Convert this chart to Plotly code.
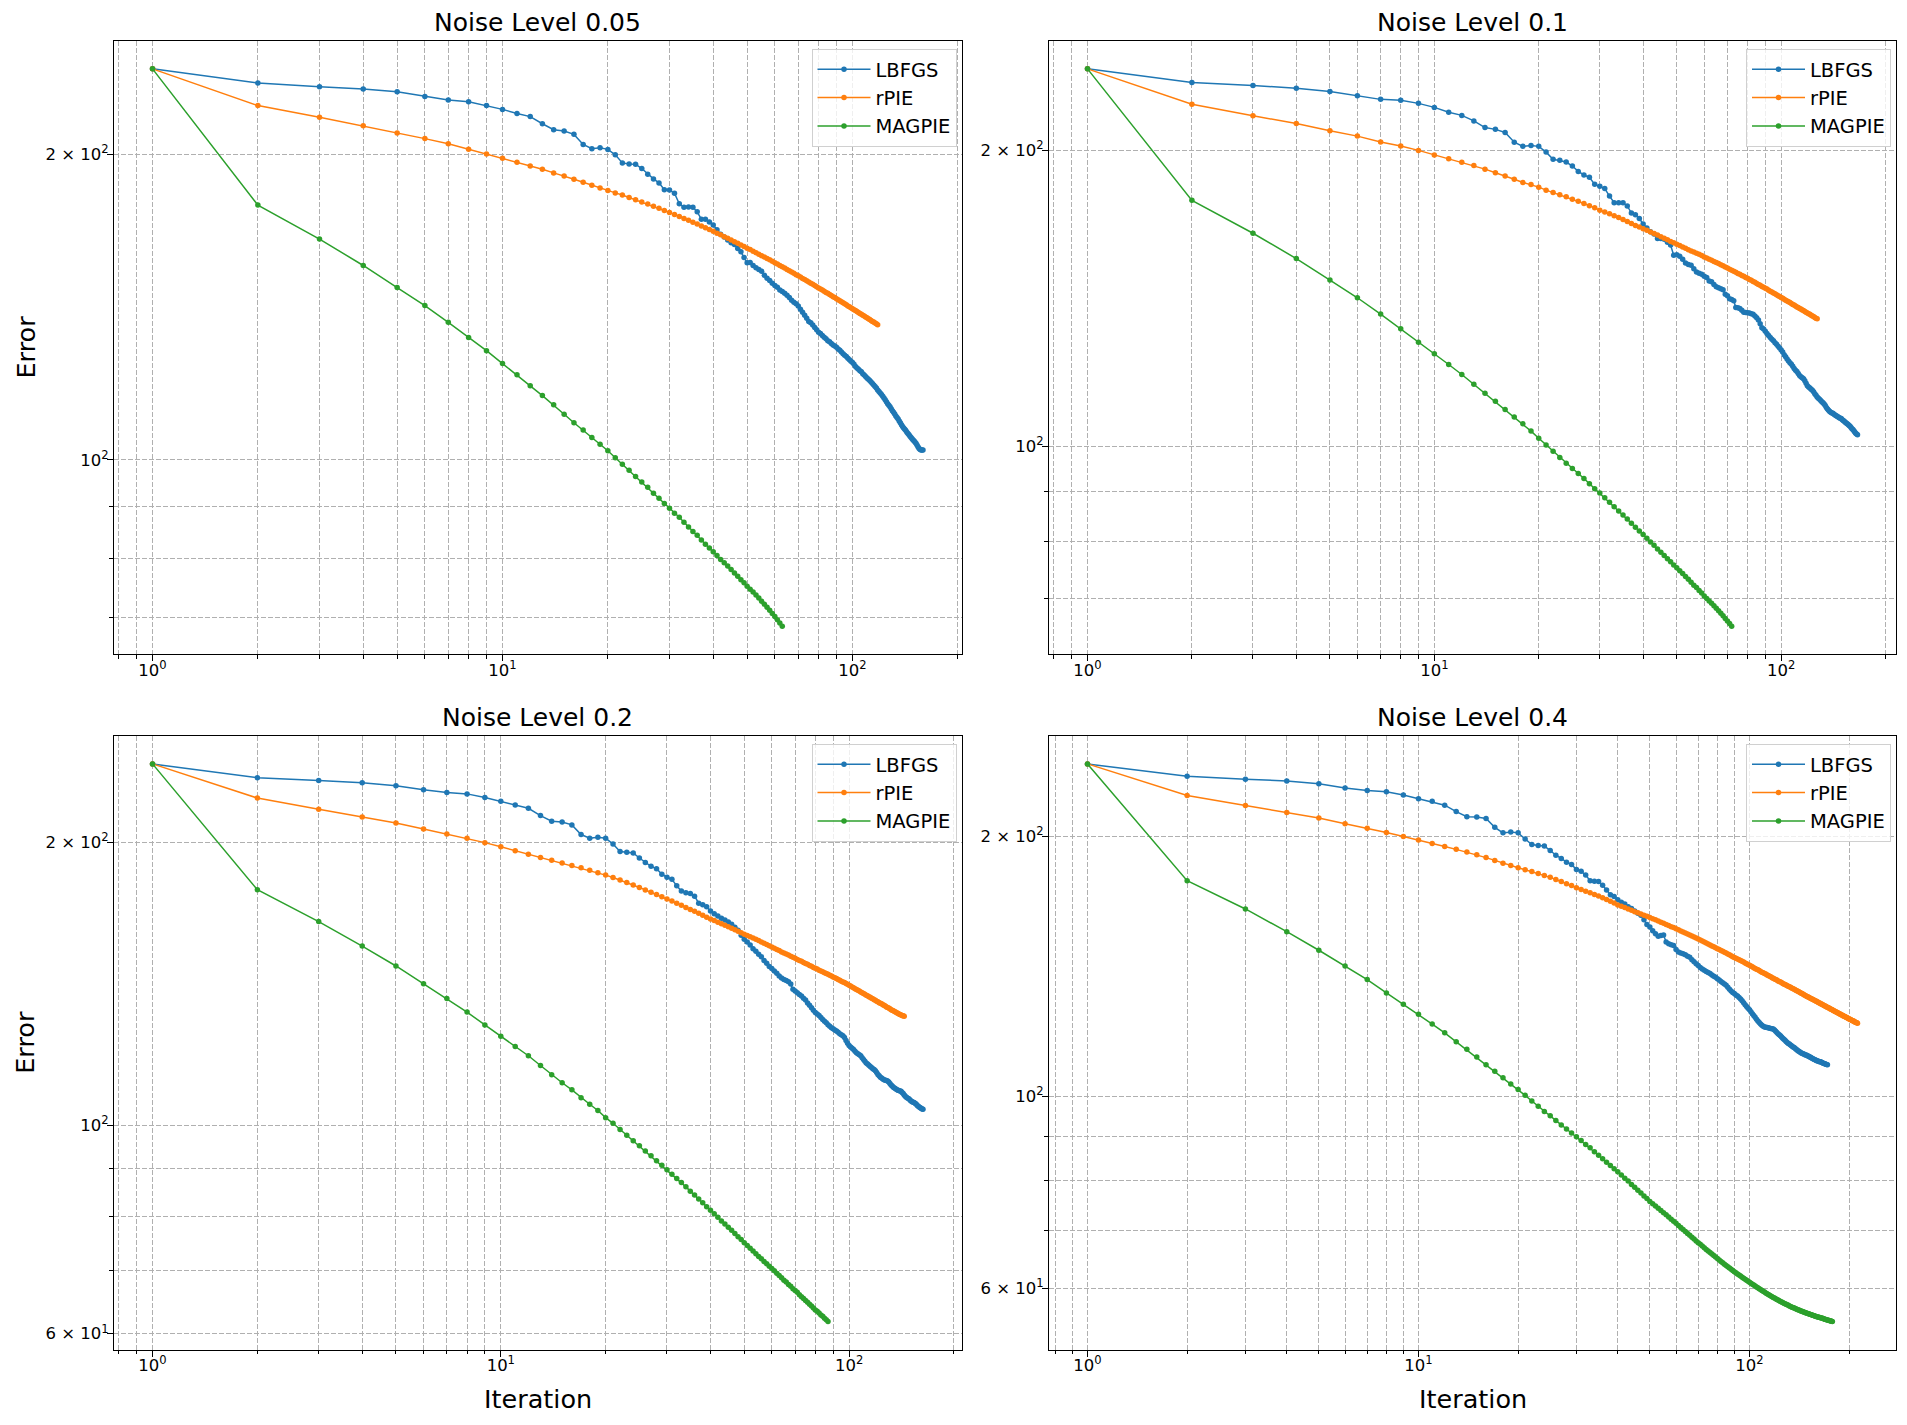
import math
import plotly.graph_objects as go

# ---- data: error per iteration (iterations start at 1) ----
titles = ["Noise Level 0.05", "Noise Level 0.1", "Noise Level 0.2", "Noise Level 0.4"]
methods = ["LBFGS", "rPIE", "MAGPIE"]
colors = ["#1f77b4", "#ff7f0e", "#2ca02c"]

lbfgs_005 = [
    242.7, 235.0, 233.1, 231.9, 230.4, 227.9, 226.2, 225.3, 223.3, 221.4,
    219.3, 217.8, 214.3, 211.4, 210.8, 209.2, 204.5, 202.5, 202.9, 202.2,
    199.7, 196.1, 195.6, 195.5, 193.6, 191.1, 189.1, 187.4, 184.5, 184.4,
    183.1, 178.7, 177.3, 177.4, 177.3, 175.5, 172.6, 172.6, 171.5, 170.3,
    168.5, 166.8, 165.8, 164.6, 163.6, 163.0, 161.5, 160.3, 158.2, 156.4,
    156.5, 155.4, 154.6, 154.0, 153.4, 152.0, 151.0, 150.2, 149.3, 148.5,
    147.9, 147.0, 146.5, 145.9, 145.3, 144.5, 143.6, 143.0, 142.5, 141.8,
    140.7, 139.8, 138.8, 137.9, 136.9, 136.5, 135.8, 135.0, 134.3, 133.6,
    133.2, 132.6, 132.1, 131.6, 131.0, 130.7, 130.2, 129.8, 129.5, 129.1,
    128.6, 128.2, 127.7, 127.2, 126.8, 126.4, 125.9, 125.5, 125.1, 124.7,
    124.2, 123.6, 123.2, 122.8, 122.4, 122.1, 121.6, 121.2, 120.8, 120.4,
    120.1, 119.7, 119.3, 118.9, 118.5, 118.1, 117.7, 117.2, 116.8, 116.4,
    116.0, 115.5, 115.1, 114.6, 114.1, 113.6, 113.2, 112.8, 112.3, 111.8,
    111.4, 111.0, 110.5, 110.1, 109.7, 109.2, 108.8, 108.3, 107.9, 107.5,
    107.2, 106.9, 106.5, 106.2, 105.9, 105.5, 105.2, 104.9, 104.6, 104.4,
    104.1, 103.8, 103.4, 103.0, 102.6, 102.4, 102.3, 102.3, 102.3,
]
rpie_005 = [
    242.7, 223.3, 217.5, 213.3, 209.9, 207.2, 204.8, 202.3, 200.1, 198.2,
    196.4, 194.7, 193.3, 191.7, 190.4, 189.0, 187.7, 186.4, 185.3, 184.2,
    183.2, 182.3, 181.3, 180.4, 179.5, 178.6, 177.7, 176.9, 176.0, 175.2,
    174.4, 173.7, 172.9, 172.2, 171.4, 170.7, 170.0, 169.3, 168.6, 167.9,
    167.2, 166.6, 165.9, 165.3, 164.6, 164.0, 163.4, 162.8, 162.2, 161.6,
    161.1, 160.5, 160.0, 159.4, 158.9, 158.4, 157.9, 157.4, 156.9, 156.4,
    155.9, 155.4, 155.0, 154.5, 154.0, 153.6, 153.1, 152.7, 152.2, 151.8,
    151.4, 150.9, 150.5, 150.1, 149.7, 149.3, 148.9, 148.5, 148.1, 147.7,
    147.3, 147.0, 146.6, 146.2, 145.9, 145.5, 145.2, 144.8, 144.5, 144.1,
    143.8, 143.5, 143.1, 142.8, 142.5, 142.2, 141.8, 141.5, 141.2, 140.9,
    140.6, 140.3, 140.0, 139.7, 139.4, 139.1, 138.8, 138.6, 138.3, 138.0,
    137.7, 137.5, 137.2, 136.9, 136.7, 136.4, 136.2, 135.9,
]
magpie_005 = [
    242.7, 178.2, 165.0, 155.4, 147.8, 141.9, 136.6, 132.0, 128.1, 124.4,
    121.3, 118.3, 115.7, 113.3, 110.9, 108.8, 107.0, 105.2, 103.6, 102.1,
    100.5, 99.0, 97.7, 96.3, 95.1, 94.0, 92.7, 91.7, 90.6, 89.6,
    88.6, 87.8, 86.8, 85.9, 85.0, 84.3, 83.4, 82.6, 81.9, 81.2,
    80.5, 79.8, 79.2, 78.6, 78.0, 77.4, 76.8, 76.2, 75.7, 75.1,
    74.6, 74.1, 73.6, 73.1, 72.6, 72.1, 71.6, 71.1, 70.6, 70.1,
    69.6, 69.1, 68.6,
]

lbfgs_01 = [
    242.1, 234.5, 232.8, 231.4, 229.6, 227.3, 225.4, 224.9, 223.3, 221.2,
    218.7, 217.1, 214.3, 211.0, 210.1, 208.6, 203.9, 201.9, 202.3, 201.9,
    199.2, 195.9, 195.4, 194.6, 192.8, 190.4, 188.8, 187.8, 184.7, 183.9,
    182.9, 179.7, 176.9, 176.9, 176.9, 175.6, 172.7, 172.0, 170.5, 168.3,
    166.7, 165.3, 164.4, 162.7, 162.7, 162.4, 161.3, 160.2, 156.4, 156.6,
    156.1, 155.0, 153.6, 153.1, 152.8, 151.6, 150.4, 150.0, 149.6, 148.9,
    148.5, 147.3, 147.0, 146.1, 145.3, 145.0, 144.6, 144.3, 142.8, 142.3,
    141.3, 141.0, 140.6, 138.4, 138.3, 138.1, 137.5, 136.9, 136.8, 136.7,
    136.6, 136.4, 136.2, 135.7, 135.1, 134.4, 133.2, 132.0, 131.6, 130.9,
    130.2, 129.6, 129.0, 128.5, 128.0, 127.4, 127.0, 126.4, 125.9, 125.3,
    124.7, 123.9, 123.3, 122.7, 122.1, 121.6, 121.2, 120.6, 120.0, 119.5,
    119.1, 118.6, 118.0, 117.7, 117.4, 117.1, 116.6, 115.9, 115.2, 114.9,
    114.6, 114.3, 114.0, 113.6, 113.1, 112.7, 112.2, 111.9, 111.6, 111.3,
    111.0, 110.7, 110.4, 110.0, 109.5, 109.1, 108.8, 108.5, 108.3, 108.1,
    108.0, 107.8, 107.6, 107.4, 107.3, 107.1, 106.9, 106.8, 106.7, 106.4,
    106.2, 106.0, 105.8, 105.6, 105.4, 105.2, 105.0, 104.8, 104.5, 104.2,
    104.0, 103.7, 103.4, 103.1, 102.9, 102.7,
]
rpie_01 = [
    242.1, 222.8, 216.9, 213.0, 209.4, 206.8, 204.0, 202.1, 200.0, 197.9,
    196.1, 194.5, 193.1, 191.4, 189.8, 188.4, 186.9, 185.5, 184.6, 183.5,
    182.2, 181.2, 180.3, 179.4, 178.4, 177.5, 176.6, 175.7, 174.8, 173.8,
    173.1, 172.4, 171.6, 170.9, 170.1, 169.3, 168.5, 167.7, 167.1, 166.5,
    165.9, 165.2, 164.6, 164.0, 163.4, 162.8, 162.2, 161.6, 161.1, 160.5,
    160.0, 159.5, 159.0, 158.5, 158.0, 157.6, 157.2, 156.8, 156.3, 155.8,
    155.4, 155.0, 154.6, 154.2, 153.8, 153.4, 153.0, 152.6, 152.2, 151.8,
    151.4, 151.0, 150.7, 150.3, 149.9, 149.6, 149.2, 148.9, 148.5, 148.2,
    147.8, 147.5, 147.1, 146.8, 146.4, 146.1, 145.8, 145.4, 145.1, 144.8,
    144.5, 144.1, 143.8, 143.5, 143.2, 142.9, 142.6, 142.3, 142.0, 141.7,
    141.4, 141.1, 140.8, 140.5, 140.3, 140.0, 139.7, 139.4, 139.2, 138.9,
    138.6, 138.4, 138.1, 137.9, 137.6, 137.4, 137.1, 136.9, 136.6, 136.4,
    136.2, 135.9, 135.7, 135.5, 135.2, 135.0, 134.8,
]
magpie_01 = [
    242.1, 177.9, 164.7, 155.2, 147.6, 141.6, 136.3, 131.7, 127.6, 124.2,
    121.1, 118.3, 115.6, 113.2, 111.1, 109.0, 107.1, 105.4, 103.6, 101.9,
    100.3, 98.8, 97.4, 96.1, 94.9, 93.8, 92.7, 91.6, 90.5, 89.6,
    88.6, 87.7, 86.8, 85.9, 85.1, 84.3, 83.5, 82.7, 82.0, 81.3,
    80.6, 79.9, 79.3, 78.6, 78.0, 77.4, 76.8, 76.3, 75.7, 75.2,
    74.7, 74.2, 73.7, 73.2, 72.7, 72.2, 71.8, 71.3, 70.9, 70.4,
    70.0, 69.6, 69.2, 68.8, 68.4, 68.0, 67.6, 67.2, 66.8, 66.4,
    66.0, 65.6,
]

lbfgs_02 = [
    242.6, 234.5, 232.9, 231.6, 230.0, 227.7, 226.2, 225.4, 223.4, 221.3,
    219.3, 217.6, 213.7, 210.8, 210.4, 208.9, 204.0, 202.2, 202.6, 202.2,
    199.3, 195.7, 195.3, 195.0, 192.6, 190.5, 188.7, 187.6, 185.1, 183.7,
    182.8, 179.9, 177.6, 176.9, 176.5, 175.4, 172.4, 171.7, 170.9, 169.1,
    168.0, 167.1, 166.2, 165.4, 164.6, 163.7, 162.5, 161.3, 159.4, 157.8,
    156.8, 155.6, 154.2, 153.2, 152.1, 151.2, 149.8, 148.8, 147.6, 146.9,
    146.0, 145.2, 144.2, 143.5, 143.0, 142.6, 142.2, 141.4, 139.6, 139.0,
    138.4, 137.8, 137.3, 136.6, 136.0, 135.0, 134.2, 133.4, 132.6, 131.9,
    131.4, 130.9, 130.3, 129.6, 129.1, 128.6, 128.0, 127.5, 127.0, 126.7,
    126.3, 126.0, 125.6, 125.2, 124.9, 124.6, 124.0, 123.1, 122.3, 121.6,
    121.2, 120.8, 120.4, 119.9, 119.5, 119.2, 118.9, 118.6, 118.0, 117.5,
    117.0, 116.5, 116.2, 115.9, 115.5, 115.2, 114.9, 114.7, 114.3, 113.8,
    113.3, 112.9, 112.5, 112.3, 112.0, 111.8, 111.7, 111.6, 111.5, 111.2,
    110.8, 110.4, 110.1, 109.8, 109.6, 109.4, 109.2, 109.0, 108.9, 108.8,
    108.7, 108.4, 108.1, 107.7, 107.4, 107.1, 106.9, 106.8, 106.6, 106.3,
    106.1, 105.9, 105.8, 105.7, 105.5, 105.3, 105.0, 104.8, 104.6, 104.4,
    104.3, 104.1, 104.0,
]
rpie_02 = [
    242.6, 223.1, 217.1, 213.0, 209.9, 206.8, 204.3, 202.2, 200.0, 198.0,
    196.1, 194.4, 192.9, 191.5, 190.3, 189.1, 188.0, 186.9, 185.8, 184.7,
    183.6, 182.5, 181.4, 180.3, 179.2, 178.1, 177.1, 176.1, 175.1, 174.2,
    173.3, 172.4, 171.5, 170.6, 169.8, 169.0, 168.2, 167.4, 166.6, 165.9,
    165.2, 164.5, 163.9, 163.3, 162.7, 162.1, 161.5, 160.9, 160.4, 159.8,
    159.3, 158.8, 158.3, 157.8, 157.3, 156.8, 156.3, 155.8, 155.3, 154.8,
    154.4, 153.9, 153.5, 153.0, 152.6, 152.2, 151.8, 151.4, 151.0, 150.6,
    150.2, 149.8, 149.5, 149.1, 148.7, 148.4, 148.0, 147.7, 147.3, 147.0,
    146.7, 146.3, 146.0, 145.7, 145.4, 145.1, 144.8, 144.5, 144.2, 143.9,
    143.6, 143.3, 143.0, 142.7, 142.4, 142.1, 141.9, 141.6, 141.3, 141.0,
    140.7, 140.4, 140.1, 139.8, 139.5, 139.3, 139.0, 138.7, 138.4, 138.2,
    137.9, 137.6, 137.4, 137.1, 136.9, 136.6, 136.4, 136.1, 135.9, 135.6,
    135.4, 135.1, 134.9, 134.7, 134.4, 134.2, 134.0, 133.7, 133.5, 133.3,
    133.1, 132.8, 132.6, 132.4, 132.2, 132.0, 131.8, 131.6, 131.4, 131.2,
    131.1, 130.9, 130.8, 130.7,
]
magpie_02 = [
    242.6, 178.2, 164.8, 155.2, 147.8, 141.5, 136.5, 132.0, 127.9, 124.4,
    121.3, 118.6, 115.8, 113.2, 111.0, 109.1, 107.0, 105.3, 103.7, 101.9,
    100.5, 99.0, 97.6, 96.3, 95.1, 93.9, 92.8, 91.7, 90.7, 89.7,
    88.7, 87.8, 86.9, 86.0, 85.1, 84.3, 83.5, 82.7, 81.9, 81.2,
    80.5, 79.8, 79.1, 78.5, 77.9, 77.3, 76.7, 76.1, 75.6, 75.0,
    74.5, 74.0, 73.5, 73.0, 72.5, 72.1, 71.6, 71.2, 70.8, 70.4,
    70.0, 69.6, 69.2, 68.8, 68.4, 68.1, 67.7, 67.4, 67.0, 66.7,
    66.4, 66.0, 65.7, 65.4, 65.1, 64.8, 64.5, 64.2, 63.9, 63.6,
    63.4, 63.1, 62.8, 62.6, 62.3, 62.1, 61.8,
]

lbfgs_04 = [
    242.8, 234.9, 233.1, 232.0, 230.3, 227.7, 226.1, 225.4, 223.5, 221.3,
    219.7, 217.5, 213.8, 210.9, 210.7, 209.9, 205.0, 202.0, 202.5, 202.0,
    198.7, 195.8, 195.3, 195.1, 192.7, 190.3, 188.7, 186.8, 185.7, 183.2,
    182.3, 180.5, 177.8, 177.6, 177.4, 175.7, 173.5, 171.3, 170.5, 169.0,
    167.9, 167.1, 165.9, 165.1, 164.0, 163.0, 162.2, 160.2, 158.2, 157.1,
    155.6, 154.3, 153.3, 153.6, 153.8, 151.0, 150.3, 149.9, 149.6, 148.0,
    147.0, 146.6, 146.3, 145.9, 145.4, 145.0, 144.0, 143.2, 142.5, 141.8,
    141.1, 140.5, 140.0, 139.6, 139.2, 138.8, 138.3, 137.8, 137.4, 136.9,
    136.4, 135.9, 135.4, 135.0, 134.5, 133.8, 133.1, 132.5, 132.0, 131.6,
    131.1, 130.7, 130.2, 129.7, 129.1, 128.4, 127.7, 127.1, 126.5, 126.0,
    125.4, 124.7, 124.1, 123.5, 122.9, 122.3, 121.8, 121.3, 120.9, 120.6,
    120.4, 120.3, 120.2, 120.1, 120.0, 119.9, 119.8, 119.7, 119.4, 119.0,
    118.6, 118.2, 117.9, 117.6, 117.2, 116.8, 116.5, 116.2, 115.8, 115.5,
    115.2, 115.0, 114.7, 114.5, 114.2, 114.0, 113.8, 113.5, 113.3, 113.0,
    112.8, 112.6, 112.4, 112.2, 112.1, 112.0, 111.8, 111.7, 111.6, 111.4,
    111.3, 111.1, 111.0, 110.8, 110.7, 110.5, 110.4, 110.3, 110.1, 110.0,
    109.9, 109.8, 109.7, 109.7, 109.6, 109.4, 109.3, 109.2, 109.1, 109.0,
    108.9, 108.8,
]
rpie_04 = [
    242.8, 223.2, 217.3, 213.3, 210.2, 207.0, 204.5, 202.2, 200.0, 198.2,
    196.4, 194.8, 193.3, 191.9, 190.5, 189.1, 187.7, 186.3, 185.2, 184.1,
    183.1, 182.2, 181.2, 180.3, 179.4, 178.4, 177.4, 176.4, 175.5, 174.5,
    173.7, 172.9, 172.2, 171.4, 170.7, 169.9, 169.1, 168.3, 167.5, 166.7,
    166.1, 165.5, 164.9, 164.3, 163.7, 163.2, 162.7, 162.2, 161.7, 161.2,
    160.7, 160.2, 159.7, 159.2, 158.7, 158.2, 157.8, 157.3, 156.9, 156.4,
    156.0, 155.5, 155.1, 154.7, 154.2, 153.8, 153.4, 153.0, 152.6, 152.2,
    151.8, 151.4, 151.0, 150.6, 150.2, 149.8, 149.4, 149.1, 148.7, 148.3,
    148.0, 147.6, 147.3, 146.9, 146.6, 146.2, 145.9, 145.6, 145.2, 144.9,
    144.6, 144.3, 144.0, 143.7, 143.4, 143.1, 142.8, 142.5, 142.2, 141.9,
    141.6, 141.3, 141.0, 140.7, 140.4, 140.2, 139.9, 139.6, 139.3, 139.1,
    138.8, 138.6, 138.3, 138.1, 137.8, 137.6, 137.3, 137.1, 136.8, 136.6,
    136.4, 136.1, 135.9, 135.7, 135.5, 135.2, 135.0, 134.8, 134.6, 134.4,
    134.2, 134.0, 133.8, 133.6, 133.4, 133.2, 133.0, 132.8, 132.6, 132.4,
    132.2, 132.0, 131.8, 131.6, 131.4, 131.2, 131.0, 130.8, 130.6, 130.5,
    130.3, 130.1, 129.9, 129.8, 129.6, 129.4, 129.3, 129.1, 128.9, 128.8,
    128.6, 128.4, 128.3, 128.1, 128.0, 127.8, 127.6, 127.5, 127.3, 127.2,
    127.0, 126.9, 126.7, 126.6, 126.4, 126.3, 126.1, 126.0, 125.8, 125.7,
    125.5, 125.4, 125.3, 125.1, 125.0, 124.8, 124.7, 124.6, 124.4, 124.3,
    124.2, 124.0, 123.9, 123.8, 123.6, 123.5, 123.4, 123.3, 123.1, 123.0,
    122.9, 122.8, 122.6, 122.5, 122.4, 122.3, 122.2, 122.0, 121.9, 121.8,
    121.7, 121.6,
]
magpie_04 = [
    242.8, 177.8, 164.9, 155.2, 147.7, 141.6, 136.6, 131.8, 127.9, 124.5,
    121.3, 118.5, 115.7, 113.4, 111.1, 108.8, 107.0, 105.1, 103.4, 101.9,
    100.3, 98.8, 97.4, 96.1, 95.0, 93.8, 92.7, 91.7, 90.7, 89.8,
    88.9, 88.0, 87.2, 86.3, 85.5, 84.7, 83.9, 83.2, 82.5, 81.8,
    81.1, 80.4, 79.8, 79.1, 78.5, 77.9, 77.3, 76.7, 76.2, 75.6,
    75.13, 74.67, 74.22, 73.78, 73.35, 72.93, 72.51, 72.10, 71.70, 71.30,
    70.90, 70.51, 70.13, 69.76, 69.40, 69.05, 68.71, 68.37, 68.04, 67.72,
    67.41, 67.10, 66.80, 66.51, 66.23, 65.95, 65.68, 65.42, 65.16, 64.91,
    64.66, 64.42, 64.18, 63.95, 63.72, 63.50, 63.29, 63.08, 62.88, 62.68,
    62.49, 62.30, 62.12, 61.94, 61.76, 61.59, 61.42, 61.25, 61.09, 60.93,
    60.77, 60.62, 60.47, 60.32, 60.17, 60.03, 59.89, 59.75, 59.61, 59.48,
    59.35, 59.22, 59.10, 58.98, 58.86, 58.74, 58.63, 58.52, 58.41, 58.30,
    58.20, 58.10, 58.00, 57.90, 57.81, 57.72, 57.63, 57.54, 57.45, 57.37,
    57.29, 57.21, 57.13, 57.05, 56.98, 56.91, 56.84, 56.77, 56.70, 56.63,
    56.57, 56.51, 56.45, 56.39, 56.33, 56.27, 56.21, 56.16, 56.11, 56.06,
    56.01, 55.96, 55.91, 55.86, 55.81, 55.76, 55.71, 55.66, 55.62, 55.58,
    55.54, 55.50, 55.46, 55.42, 55.38, 55.34, 55.30, 55.26, 55.22, 55.18,
    55.14, 55.10, 55.06, 55.02, 54.98, 54.94, 54.90, 54.86,
]

panels = [
    (lbfgs_005, rpie_005, magpie_005),
    (lbfgs_01, rpie_01, magpie_01),
    (lbfgs_02, rpie_02, magpie_02),
    (lbfgs_04, rpie_04, magpie_04),
]

# ---- layout in window pixels ----
W, H = 1907, 1425
OFF = 8  # default page margin around the plot div
FW, FH = W - 2 * OFF, H - 2 * OFF
FONT = "DejaVu Sans"
cols = [(114, 961.5), (1049, 1896)]
rows = [(41, 654), (736, 1349.5)]


def px(x):
    return (x - OFF) / FW


def py(y):
    return 1 - (y - OFF) / FH


def sup(n):
    return f"10<sup>{n}</sup>"


fig = go.Figure()
layout = dict(
    width=FW, height=FH, margin=dict(l=0, r=0, t=0, b=0),
    paper_bgcolor="white", plot_bgcolor="white",
    font=dict(family=FONT, color="black", size=16),
    showlegend=True, annotations=[],
)

for k, series in enumerate(panels):
    r, c = divmod(k, 2)
    x0, x1 = cols[c]
    y0, y1 = rows[r]
    sfx = "" if k == 0 else str(k + 1)
    leg = "legend" + sfx

    for name, vals, col in zip(methods, series, colors):
        fig.add_trace(go.Scatter(
            x=list(range(1, len(vals) + 1)), y=vals, name=name,
            mode="lines+markers",
            line=dict(color=col, width=1.5),
            marker=dict(color=col, size=5.5),
            xaxis="x" + sfx, yaxis="y" + sfx, legend=leg,
        ))

    # matplotlib-like log autoscale with 5% margins
    nmax = max(len(s) for s in series)
    lx = math.log10(nmax)
    xr = [-0.05 * lx, lx * 1.05]
    lo = math.log10(min(min(s) for s in series))
    hi = math.log10(max(max(s) for s in series))
    pad = 0.05 * (hi - lo)
    yr = [lo - pad, hi + pad]

    xmajor = [v for v in (1, 10, 100, 1000) if xr[0] <= math.log10(v) <= xr[1]]
    xminor = [m * d for d in (0.1, 1, 10, 100) for m in range(2, 10)
              if xr[0] <= math.log10(m * d) <= xr[1]]
    ylab = {60: "6 × " + sup(1), 100: sup(2), 200: "2 × " + sup(2)}
    ymajor = [v for v in ylab if yr[0] <= math.log10(v) <= yr[1]]
    yminor = [v for v in (50, 70, 80, 90, 300) if yr[0] <= math.log10(v) <= yr[1]]

    grid = dict(showgrid=True, gridcolor="#b0b0b0", gridwidth=1, griddash="5px,2px")
    common = dict(
        type="log", showline=True, linecolor="black", linewidth=1.2, mirror=True,
        ticks="outside", ticklen=6, tickwidth=1.2, tickcolor="black",
        zeroline=False, tickfont=dict(family=FONT, size=16.5), **grid,
    )
    layout["xaxis" + sfx] = dict(
        domain=[px(x0), px(x1)], anchor="y" + sfx, range=xr,
        tickmode="array", tickvals=xmajor,
        ticktext=[sup(int(round(math.log10(v)))) for v in xmajor],
        ticklabelstandoff=-5,
        minor=dict(tickmode="array", tickvals=xminor, ticks="outside", ticklen=3.5,
                   tickwidth=1, tickcolor="black", **grid),
        **common,
    )
    layout["yaxis" + sfx] = dict(
        domain=[py(y1), py(y0)], anchor="x" + sfx, range=yr,
        tickmode="array", tickvals=ymajor, ticktext=[ylab[v] for v in ymajor],
        ticklabelstandoff=-5,
        minor=dict(tickmode="array", tickvals=yminor, ticks="outside", ticklen=3.5,
                   tickwidth=1, tickcolor="black", **grid),
        **common,
    )
    layout[leg] = dict(
        x=px(x1 - 5), y=py(y0 + 8), xanchor="right", yanchor="top",
        xref="paper", yref="paper",
        bgcolor="rgba(255,255,255,0.8)", bordercolor="#d0d0d0", borderwidth=1,
        font=dict(family=FONT, size=19.5), itemwidth=53, tracegroupgap=0,
    )

    xm = (x0 + x1) / 2
    layout["annotations"].append(dict(
        text=titles[k], x=px(xm), y=py(y0 - 2), xref="paper", yref="paper",
        xanchor="center", yanchor="bottom", showarrow=False,
        font=dict(family=FONT, size=25),
    ))
    if c == 0:
        layout["annotations"].append(dict(
            text="Error", x=px(25), y=py((y0 + y1) / 2), xref="paper", yref="paper",
            xanchor="center", yanchor="middle", textangle=-90, showarrow=False,
            font=dict(family=FONT, size=25.5),
        ))
    if r == 1:
        layout["annotations"].append(dict(
            text="Iteration", x=px(xm), y=py(1399), xref="paper", yref="paper",
            xanchor="center", yanchor="middle", showarrow=False,
            font=dict(family=FONT, size=25.5),
        ))

fig.update_layout(**layout)
fig.write_html("out.html")
